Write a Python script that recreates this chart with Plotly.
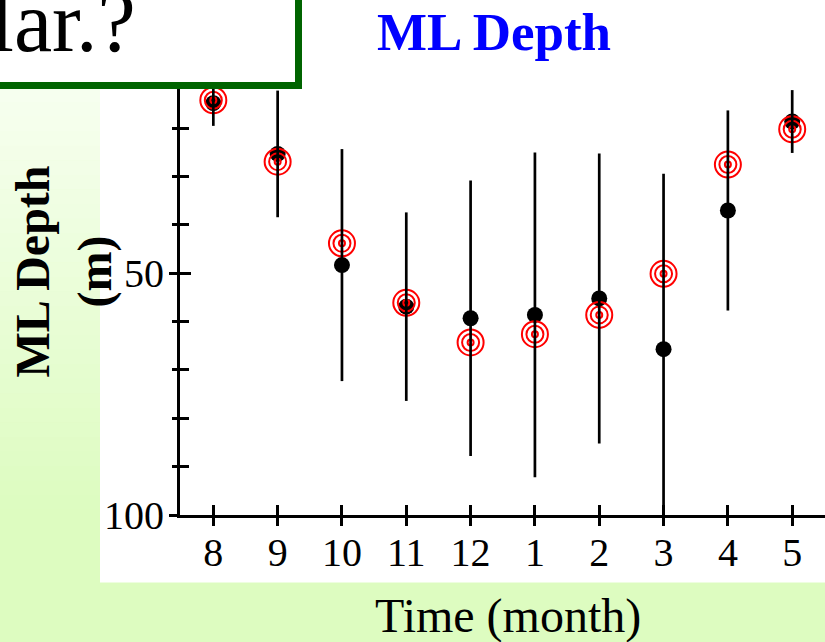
import plotly.graph_objects as go

# Monthly mixed-layer depth (m): mean with spread, plus a second estimate
months = ["8", "9", "10", "11", "12", "1", "2", "3", "4", "5"]
mean_depth = [14.8, 25.3, 48.3, 56.9, 59.3, 58.6, 55.2, 65.7, 37.0, 18.6]
std_depth = [4.7, 13.1, 24.0, 19.5, 28.5, 33.6, 30.0, 36.3, 20.7, 6.5]
alt_depth = [14.2, 26.9, 43.8, 56.1, 64.3, 62.6, 58.6, 50.1, 27.5, 20.2]

y_major = [0, 50, 100]
y_minor = [10, 20, 30, 40, 60, 70, 80, 90]

W, H = 825, 642
L, R, T, B = 180, 0, 0, 127
PW, PH = W - L - R, H - T - B
FONT = "Liberation Serif"


def px(x):
    return (x - L) / PW


def py(y):
    return (T + PH - y) / PH


xpos = list(range(len(months)))

fig = go.Figure()
fig.add_trace(go.Scatter(
    x=xpos, y=mean_depth, mode="markers",
    marker=dict(color="black", size=16),
    showlegend=False, hoverinfo="skip"))
for sz in (26, 17, 6):
    fig.add_trace(go.Scatter(
        x=xpos, y=alt_depth, mode="markers",
        marker=dict(symbol="circle-open", size=sz, color="red",
                    line=dict(color="red", width=2)),
        showlegend=False, hoverinfo="skip"))
fig.add_trace(go.Scatter(
    x=xpos, y=mean_depth, mode="markers",
    marker=dict(color="rgba(0,0,0,0)", size=1),
    error_y=dict(type="data", array=std_depth, visible=True,
                 color="black", thickness=2.7, width=0),
    showlegend=False, hoverinfo="skip"))
# companion axes carrying the outward half of the tick marks
fig.add_trace(go.Scatter(x=[None], y=[None], xaxis="x2", yaxis="y2",
                         showlegend=False, hoverinfo="skip"))

xr = [-0.518, 9.51]
yr = [100, -6.54]
TICK_W = 2.5

fig.update_layout(
    width=W, height=H,
    margin=dict(l=L, r=R, t=T, b=B),
    paper_bgcolor="rgb(221,252,192)",
    plot_bgcolor="white",
    font=dict(family=FONT, color="black"),
    xaxis=dict(range=xr, tickvals=xpos, ticktext=months,
               tickfont=dict(size=40, family=FONT),
               ticks="inside", ticklen=10, tickwidth=TICK_W, tickcolor="black",
               ticklabelstandoff=0,
               showline=True, linewidth=3, linecolor="black",
               showgrid=False, zeroline=False, fixedrange=True),
    yaxis=dict(range=yr, tickvals=y_major, ticktext=[str(v) for v in y_major],
               tickfont=dict(size=40, family=FONT),
               ticks="inside", ticklen=11, tickwidth=TICK_W, tickcolor="black",
               ticklabelstandoff=5,
               minor=dict(tickvals=y_minor, ticks="inside", ticklen=9,
                          tickwidth=TICK_W, tickcolor="black"),
               showline=True, linewidth=3, linecolor="black",
               showgrid=False, zeroline=False, fixedrange=True),
    xaxis2=dict(range=xr, overlaying="x", anchor="y", side="bottom",
                tickvals=xpos, showticklabels=False,
                ticks="outside", ticklen=10, tickwidth=TICK_W, tickcolor="black",
                showline=False, showgrid=False, zeroline=False),
    yaxis2=dict(range=yr, overlaying="y", anchor="x", side="left",
                tickvals=y_major, showticklabels=False,
                ticks="outside", ticklen=10, tickwidth=TICK_W, tickcolor="black",
                minor=dict(tickvals=y_minor, ticks="outside", ticklen=7,
                           tickwidth=TICK_W, tickcolor="black"),
                showline=False, showgrid=False, zeroline=False),
)

shapes = []
# white panel behind the chart
shapes.append(dict(type="rect", xref="paper", yref="paper",
                   x0=px(100), x1=px(W + 10), y0=py(582.5), y1=py(-10),
                   fillcolor="white", line=dict(width=0), layer="below"))
# pale vertical gradient on the left strip
n_band = 40
top_c, bot_c = (248, 255, 242), (221, 252, 192)
for i in range(n_band):
    y0 = 582.5 * i / n_band
    y1 = 582.5 * (i + 1) / n_band
    t = min(1.0, max(0.0, (y0 - 60) / 440))
    c = tuple(round(a + (b - a) * t) for a, b in zip(top_c, bot_c))
    shapes.append(dict(type="rect", xref="paper", yref="paper",
                       x0=px(-5), x1=px(100), y0=py(y1 + 0.5), y1=py(y0),
                       fillcolor="rgb(%d,%d,%d)" % c, line=dict(width=0),
                       layer="below"))
# framed caption box in the top-left corner
shapes.append(dict(type="rect", xref="paper", yref="paper",
                   x0=px(-30), x1=px(298.5), y0=py(85.5), y1=py(-30),
                   fillcolor="white", line=dict(color="#006400", width=7),
                   layer="above"))
fig.update_layout(shapes=shapes)

annotations = [
    dict(text="lar.?", xref="paper", yref="paper", x=px(138), y=py(22),
         xanchor="right", yanchor="middle", showarrow=False,
         font=dict(size=86, family=FONT, color="black")),
    dict(text="<b>ML Depth</b>", xref="paper", yref="paper",
         x=px(493.5), y=py(32), xanchor="center", yanchor="middle",
         showarrow=False, font=dict(size=53, family=FONT, color="blue")),
    dict(text="Time (month)", xref="paper", yref="paper",
         x=px(507.5), y=py(615.5), xanchor="center", yanchor="middle",
         showarrow=False, font=dict(size=48, family=FONT, color="black")),
    dict(text="<b>ML Depth<br>(m)</b>", xref="paper", yref="paper",
         x=px(63), y=py(271.5), xanchor="center", yanchor="middle",
         textangle=-90, showarrow=False,
         font=dict(size=48, family=FONT, color="black")),
]
fig.update_layout(annotations=annotations)

fig.write_html("out.html", config={"displayModeBar": False})
